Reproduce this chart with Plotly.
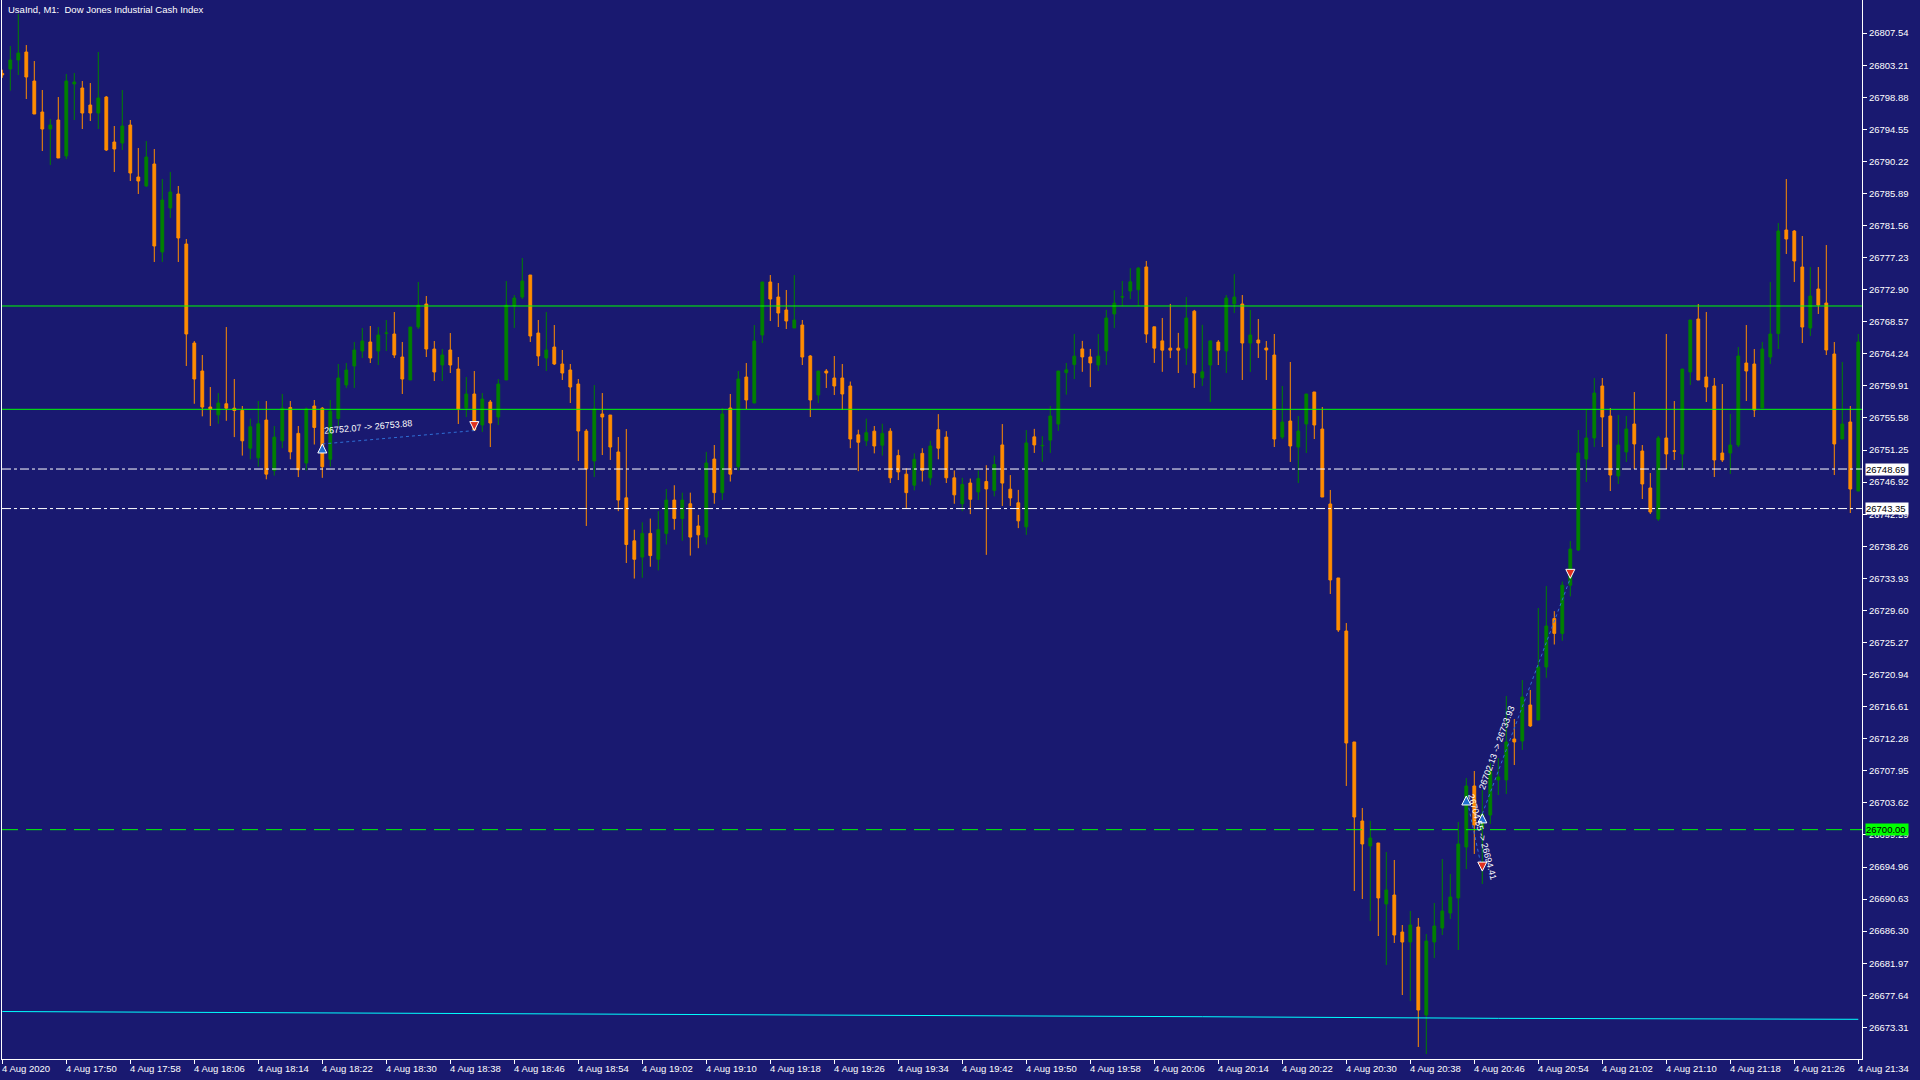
import plotly.graph_objects as go

# UsaInd M1, 4 Aug 2020, one bar per minute from 17:42 to 21:34
opens = [
    26802.10, 26802.69, 26803.91, 26804.99, 26801.07, 26796.89, 26794.59, 26795.81, 26790.95, 26800.67,
    26800.13, 26797.83, 26796.75, 26798.91, 26792.84, 26792.70, 26795.13, 26788.11, 26786.90, 26789.87,
    26777.99, 26783.93, 26785.82, 26779.07, 26765.70, 26761.92, 26757.06, 26756.00, 26757.50, 26756.90,
    26756.60, 26751.50, 26750.20, 26755.30, 26748.50, 26752.50, 26757.00, 26753.50, 26749.50, 26757.20,
    26756.90, 26750.00, 26755.50, 26760.03, 26762.60, 26764.62, 26765.84, 26764.62, 26767.01, 26766.92,
    26763.81, 26760.71, 26767.86, 26770.97, 26764.89, 26762.73, 26764.76, 26762.19, 26756.93, 26758.82,
    26754.63, 26757.74, 26755.71, 26760.71, 26770.70, 26771.91, 26774.88, 26767.05, 26763.68, 26765.16,
    26762.87, 26762.06, 26760.17, 26753.82, 26749.77, 26756.12, 26755.98, 26750.99, 26744.80, 26739.00,
    26736.80, 26740.00, 26736.50, 26740.00, 26744.50, 26742.00, 26744.00, 26741.00, 26739.50, 26750.04,
    26745.50, 26756.93, 26749.00, 26761.11, 26757.60, 26766.78, 26773.94, 26771.91, 26770.16, 26767.73,
    26768.13, 26763.95, 26758.68, 26761.92, 26760.98, 26760.98, 26759.90, 26753.30, 26752.50, 26753.80,
    26751.90, 26753.80, 26750.50, 26748.00, 26746.50, 26750.80, 26747.50, 26754.00, 26753.00, 26747.50,
    26744.00, 26746.80, 26745.60, 26747.00, 26745.80, 26751.94, 26745.97, 26744.13, 26740.88, 26753.03,
    26751.83, 26752.59, 26754.76, 26761.70, 26762.79, 26764.90, 26763.82, 26762.73, 26764.63, 26769.62,
    26771.90, 26772.72, 26772.88, 26775.97, 26767.89, 26765.99, 26765.01, 26765.01, 26765.01, 26770.00,
    26761.00, 26762.73, 26765.83, 26764.62, 26770.97, 26770.97, 26765.70, 26766.11, 26765.03, 26764.08,
    26753.01, 26755.17, 26751.66, 26754.77, 26759.09, 26754.09, 26743.97, 26733.98, 26726.82, 26711.84,
    26701.17, 26697.80, 26698.20, 26689.97, 26691.18, 26686.18, 26684.83, 26686.86, 26674.98, 26684.83,
    26686.73, 26688.75, 26690.78, 26697.66, 26705.90, 26700.23, 26701.98, 26706.71, 26706.71, 26712.24,
    26711.97, 26716.83, 26714.81, 26721.96, 26728.50, 26726.50, 26733.00, 26737.76, 26750.04, 26752.88,
    26759.90, 26755.85, 26747.75, 26750.99, 26754.77, 26751.12, 26746.13, 26741.94, 26752.88, 26751.14,
    26750.72, 26761.79, 26768.94, 26761.11, 26759.90, 26750.85, 26750.85, 26751.93, 26763.00, 26762.87,
    26756.93, 26763.81, 26766.98, 26780.96, 26780.82, 26775.96, 26767.73, 26772.99, 26771.10, 26764.22,
    26752.74, 26755.04, 26745.72,
]
highs = [
    26802.60, 26805.80, 26810.12, 26805.93, 26803.77, 26799.86, 26795.94, 26798.91, 26802.02, 26802.15,
    26801.07, 26800.80, 26804.99, 26799.05, 26795.00, 26799.86, 26795.81, 26792.03, 26792.97, 26791.89,
    26787.84, 26788.79, 26786.90, 26779.74, 26765.97, 26764.08, 26759.76, 26758.95, 26767.86, 26760.84,
    26757.20, 26755.50, 26757.87, 26757.87, 26754.50, 26758.82, 26757.87, 26754.50, 26757.00, 26758.01,
    26757.06, 26758.00, 26762.87, 26763.00, 26765.84, 26767.73, 26768.00, 26767.86, 26768.81, 26769.89,
    26765.84, 26767.86, 26773.94, 26772.05, 26765.97, 26764.89, 26767.05, 26763.81, 26761.11, 26761.92,
    26758.95, 26758.01, 26760.84, 26774.07, 26772.18, 26777.18, 26774.88, 26768.81, 26769.89, 26768.13,
    26764.76, 26762.87, 26760.84, 26754.09, 26760.03, 26758.95, 26755.98, 26753.01, 26754.09, 26740.50,
    26741.50, 26742.00, 26743.00, 26746.00, 26746.50, 26745.50, 26745.50, 26742.50, 26751.00, 26751.93,
    26756.93, 26758.82, 26761.92, 26763.00, 26768.13, 26773.94, 26774.88, 26773.80, 26772.86, 26774.88,
    26768.81, 26764.08, 26761.92, 26762.19, 26763.95, 26762.87, 26760.50, 26754.00, 26755.50, 26754.50,
    26754.80, 26754.20, 26751.30, 26748.80, 26750.80, 26751.50, 26752.50, 26756.10, 26753.80, 26748.50,
    26747.50, 26747.40, 26748.50, 26749.20, 26750.50, 26754.76, 26747.87, 26745.87, 26753.95, 26754.11,
    26753.13, 26757.20, 26761.92, 26763.01, 26766.91, 26765.99, 26764.90, 26766.91, 26770.17, 26772.82,
    26774.07, 26775.81, 26775.97, 26776.78, 26767.89, 26769.08, 26770.98, 26767.07, 26771.90, 26770.17,
    26768.16, 26765.99, 26766.10, 26772.18, 26775.00, 26772.18, 26770.16, 26768.94, 26765.97, 26766.92,
    26759.90, 26763.14, 26755.85, 26758.82, 26759.09, 26757.06, 26745.86, 26733.98, 26727.90, 26711.84,
    26702.93, 26701.17, 26698.20, 26696.99, 26695.91, 26687.13, 26689.02, 26688.08, 26685.91, 26690.10,
    26696.04, 26694.02, 26701.04, 26706.98, 26707.92, 26705.36, 26709.00, 26709.68, 26718.05, 26714.94,
    26720.21, 26718.86, 26729.93, 26732.89, 26729.50, 26733.50, 26738.97, 26753.96, 26756.79, 26760.98,
    26760.98, 26756.93, 26755.98, 26755.85, 26759.09, 26751.93, 26748.15, 26753.15, 26766.92, 26757.87,
    26762.19, 26768.81, 26770.97, 26769.89, 26760.98, 26760.17, 26756.12, 26765.16, 26768.13, 26764.89,
    26765.84, 26773.94, 26781.90, 26787.84, 26780.96, 26780.15, 26775.96, 26775.96, 26778.93, 26765.84,
    26763.14, 26757.20, 26766.92,
]
lows = [
    26801.50, 26799.77, 26801.88, 26798.64, 26796.62, 26791.62, 26789.73, 26790.68, 26790.54, 26795.81,
    26794.59, 26795.67, 26794.59, 26791.62, 26788.79, 26791.76, 26787.57, 26785.82, 26786.76, 26776.64,
    26776.64, 26782.58, 26776.64, 26762.60, 26757.50, 26755.80, 26754.50, 26754.80, 26755.20, 26753.00,
    26750.50, 26750.00, 26749.00, 26747.30, 26747.80, 26751.50, 26750.00, 26747.60, 26748.50, 26752.00,
    26747.50, 26749.00, 26754.50, 26759.63, 26759.63, 26763.68, 26763.00, 26762.73, 26764.62, 26763.68,
    26758.82, 26760.71, 26767.59, 26763.81, 26760.57, 26760.57, 26761.65, 26754.77, 26755.71, 26753.82,
    26753.69, 26751.66, 26754.63, 26760.71, 26767.73, 26771.64, 26765.84, 26762.60, 26761.92, 26762.73,
    26760.71, 26757.60, 26749.77, 26741.00, 26747.61, 26750.58, 26749.91, 26743.00, 26736.00, 26733.90,
    26734.00, 26735.50, 26735.00, 26738.50, 26740.50, 26739.00, 26737.00, 26738.00, 26738.50, 26744.00,
    26744.50, 26747.00, 26748.50, 26756.79, 26757.60, 26765.70, 26768.67, 26767.86, 26767.59, 26767.73,
    26762.73, 26755.71, 26757.60, 26759.63, 26758.68, 26756.66, 26751.50, 26748.40, 26751.80, 26750.80,
    26750.50, 26746.80, 26747.20, 26743.40, 26745.80, 26747.00, 26746.50, 26750.00, 26746.80, 26744.00,
    26743.00, 26742.60, 26744.50, 26737.10, 26745.00, 26743.70, 26743.70, 26740.71, 26739.79, 26750.86,
    26749.66, 26750.86, 26753.84, 26758.72, 26760.84, 26761.81, 26759.75, 26761.92, 26762.73, 26767.72,
    26770.71, 26771.63, 26770.71, 26765.72, 26763.01, 26761.81, 26763.66, 26761.65, 26762.73, 26759.64,
    26759.91, 26757.74, 26762.73, 26761.65, 26769.75, 26760.71, 26761.79, 26763.68, 26760.71, 26751.66,
    26752.74, 26749.64, 26746.80, 26750.85, 26752.74, 26744.91, 26731.82, 26726.69, 26705.90, 26691.72,
    26690.64, 26687.67, 26685.64, 26681.73, 26684.70, 26677.68, 26676.87, 26670.66, 26669.71, 26682.67,
    26685.78, 26687.94, 26683.76, 26694.69, 26696.72, 26692.67, 26700.77, 26704.68, 26704.82, 26708.73,
    26710.76, 26713.86, 26714.81, 26720.50, 26725.00, 26725.50, 26731.50, 26737.62, 26746.94, 26751.66,
    26751.66, 26745.72, 26746.67, 26749.64, 26748.69, 26744.64, 26742.62, 26741.67, 26748.69, 26749.91,
    26748.69, 26760.03, 26760.71, 26757.74, 26747.61, 26749.64, 26748.02, 26751.66, 26757.87, 26755.71,
    26756.93, 26762.87, 26764.89, 26777.72, 26773.94, 26765.70, 26766.65, 26769.62, 26764.08, 26747.88,
    26752.74, 26742.75, 26745.72,
]
closes = [
    26801.90, 26803.91, 26804.85, 26801.61, 26796.62, 26794.59, 26795.13, 26790.68, 26801.07, 26800.94,
    26796.75, 26796.75, 26798.78, 26791.76, 26791.89, 26795.00, 26788.65, 26787.57, 26790.81, 26778.80,
    26785.01, 26786.09, 26779.88, 26766.92, 26760.84, 26757.06, 26756.80, 26757.60, 26756.90, 26756.60,
    26752.50, 26754.40, 26754.80, 26748.00, 26753.00, 26756.90, 26751.00, 26748.60, 26756.80, 26754.30,
    26749.00, 26756.50, 26760.98, 26762.06, 26764.76, 26765.97, 26763.68, 26766.78, 26767.05, 26764.08,
    26760.84, 26767.86, 26770.83, 26764.89, 26761.79, 26764.08, 26762.73, 26756.79, 26758.82, 26753.96,
    26758.14, 26754.90, 26760.17, 26770.83, 26771.78, 26774.07, 26766.65, 26763.95, 26764.76, 26762.87,
    26761.65, 26759.76, 26753.82, 26748.69, 26756.79, 26755.71, 26751.66, 26744.50, 26738.50, 26736.50,
    26740.00, 26737.00, 26740.50, 26744.50, 26742.00, 26744.50, 26739.50, 26739.80, 26749.50, 26745.50,
    26756.12, 26748.00, 26760.84, 26758.01, 26765.97, 26773.94, 26771.64, 26769.75, 26768.67, 26768.81,
    26763.81, 26758.01, 26761.92, 26761.65, 26759.90, 26758.82, 26752.74, 26752.30, 26753.60, 26751.80,
    26753.50, 26747.50, 26748.30, 26745.50, 26750.00, 26748.50, 26751.80, 26751.50, 26747.50, 26745.20,
    26746.60, 26744.60, 26747.40, 26746.00, 26749.30, 26746.79, 26744.78, 26741.69, 26752.21, 26751.94,
    26751.87, 26755.85, 26761.92, 26762.08, 26763.93, 26763.82, 26763.01, 26763.93, 26769.08, 26771.09,
    26771.94, 26773.96, 26775.81, 26766.91, 26765.01, 26764.74, 26764.74, 26764.74, 26769.08, 26761.65,
    26761.81, 26765.99, 26764.74, 26771.78, 26771.91, 26765.70, 26766.78, 26765.70, 26764.76, 26752.74,
    26755.04, 26751.80, 26753.82, 26758.82, 26754.63, 26744.91, 26733.71, 26726.96, 26711.70, 26701.71,
    26698.07, 26698.88, 26690.78, 26691.86, 26685.78, 26684.83, 26687.13, 26675.65, 26684.97, 26687.00,
    26689.02, 26690.91, 26698.07, 26705.90, 26700.63, 26702.12, 26707.92, 26707.11, 26711.84, 26711.84,
    26717.91, 26714.00, 26721.96, 26727.50, 26726.50, 26733.00, 26737.89, 26750.85, 26752.88, 26758.95,
    26755.71, 26747.88, 26751.93, 26754.09, 26752.07, 26746.67, 26742.89, 26752.88, 26750.72, 26751.10,
    26762.19, 26768.81, 26760.71, 26759.76, 26749.91, 26749.91, 26751.93, 26763.95, 26761.92, 26756.66,
    26764.89, 26766.92, 26780.82, 26779.74, 26776.77, 26767.86, 26772.05, 26770.83, 26764.76, 26752.07,
    26754.77, 26745.99, 26765.84,
]
bars = list(range(len(opens)))

# time scale: a label every 8 bars
time_ticks = list(range(0, 233, 8))
time_labels = ['4 Aug 2020'] + ['4 Aug ' + t for t in [
    '17:50', '17:58', '18:06', '18:14', '18:22', '18:30', '18:38', '18:46', '18:54', '19:02',
    '19:10', '19:18', '19:26', '19:34', '19:42', '19:50', '19:58', '20:06', '20:14', '20:22',
    '20:30', '20:38', '20:46', '20:54', '21:02', '21:10', '21:18', '21:26', '21:34']]

price_ticks = [
    26807.54, 26803.21, 26798.88, 26794.55, 26790.22, 26785.89, 26781.56, 26777.23,
    26772.90, 26768.57, 26764.24, 26759.91, 26755.58, 26751.25, 26746.92, 26742.59,
    26738.26, 26733.93, 26729.60, 26725.27, 26720.94, 26716.61, 26712.28, 26707.95,
    26703.62, 26699.29, 26694.96, 26690.63, 26686.30, 26681.97, 26677.64, 26673.31,
]

# horizontal levels drawn on the chart
green_levels = [26770.70, 26756.75]
white_levels = [26748.69, 26743.35]
target_level = 26700.00

# slow moving average near the bottom
ma_bars = [0, 60, 120, 150, 187, 232]
ma_values = [26675.45, 26675.20, 26674.95, 26674.75, 26674.53, 26674.40]

# trade history: open -> close
trade_open_bar = [40, 185, 183]
trade_open_price = [26752.07, 26702.13, 26704.55]
trade_close_bar = [59, 196, 185]
trade_close_price = [26753.88, 26733.93, 26694.41]

BG = '#191970'
FONT = 'Liberation Sans'

fig = go.Figure()

fig.add_trace(go.Scatter(
    x=ma_bars, y=ma_values, mode='lines',
    line=dict(color='#00ffff', width=1),
    hoverinfo='skip', showlegend=False,
))

fig.add_trace(go.Candlestick(
    x=bars, open=opens, high=highs, low=lows, close=closes,
    increasing=dict(line=dict(color='#008000', width=1), fillcolor='#008000'),
    decreasing=dict(line=dict(color='#ff8c00', width=1), fillcolor='#ff8c00'),
    whiskerwidth=0, hoverinfo='skip', showlegend=False,
))

for ob, op, cb, cp in zip(trade_open_bar, trade_open_price, trade_close_bar, trade_close_price):
    fig.add_trace(go.Scatter(
        x=[ob, cb], y=[op, cp], mode='lines',
        line=dict(color='#2f6fd6', width=1, dash='dot'),
        hoverinfo='skip', showlegend=False,
    ))

fig.add_trace(go.Scatter(
    x=trade_open_bar, y=trade_open_price, mode='markers',
    marker=dict(symbol='arrow-up', size=9, color='#1f6fd0', line=dict(color='white', width=1)),
    hoverinfo='skip', showlegend=False,
))
fig.add_trace(go.Scatter(
    x=trade_close_bar, y=trade_close_price, mode='markers',
    marker=dict(symbol='arrow-down', size=9, color='#e0301e', line=dict(color='white', width=1)),
    hoverinfo='skip', showlegend=False,
))

shapes = []
for lv in green_levels:
    shapes.append(dict(type='line', xref='paper', x0=0, x1=1, yref='y', y0=lv, y1=lv,
                       line=dict(color='#00ff00', width=1)))
for lv in white_levels:
    shapes.append(dict(type='line', xref='paper', x0=0, x1=1, yref='y', y0=lv, y1=lv,
                       line=dict(color='white', width=1, dash='9px,3px,3px,3px')))
shapes.append(dict(type='line', xref='paper', x0=0, x1=1, yref='y', y0=target_level, y1=target_level,
                   line=dict(color='#00ff00', width=1, dash='16px,8px')))

annotations = []
# time labels start at their tick
for b, lab in zip(time_ticks, time_labels):
    annotations.append(dict(
        x=b, xref='x', y=0, yref='paper', text=lab, showarrow=False,
        xanchor='left', yanchor='top', xshift=-2, yshift=-2,
        font=dict(family=FONT, size=9.5, color='white'),
    ))

# price tags on the axis
for lv in white_levels:
    annotations.append(dict(
        x=1, xref='paper', y=lv, yref='y', text='%.2f' % lv, showarrow=False,
        xanchor='left', yanchor='middle', xshift=3, width=42, align='left',
        bgcolor='white', borderpad=0,
        font=dict(family=FONT, size=9.5, color='black'),
    ))
annotations.append(dict(
    x=1, xref='paper', y=target_level, yref='y', text='%.2f' % target_level, showarrow=False,
    xanchor='left', yanchor='middle', xshift=3, width=42, align='left',
    bgcolor='#00ff00', borderpad=0,
    font=dict(family=FONT, size=9.5, color='black'),
))

# trade texts
annotations.append(dict(
    x=45.7, xref='x', y=26754.3, yref='y',
    text='%.2f -> %.2f' % (trade_open_price[0], trade_close_price[0]),
    showarrow=False, textangle=-5,
    font=dict(family=FONT, size=9, color='white'),
))
annotations.append(dict(
    x=186.8, xref='x', y=26711.0, yref='y',
    text='%.2f -> %.2f' % (trade_open_price[1], trade_close_price[1]),
    showarrow=False, textangle=-70,
    font=dict(family=FONT, size=9, color='white'),
))
annotations.append(dict(
    x=185.0, xref='x', y=26699.0, yref='y',
    text='%.2f -> %.2f' % (trade_open_price[2], trade_close_price[2]),
    showarrow=False, textangle=75,
    font=dict(family=FONT, size=9, color='white'),
))

# chart title
annotations.append(dict(
    x=0, xref='paper', y=1, yref='paper',
    text='UsaInd, M1:\u00a0 Dow Jones Industrial Cash Index', showarrow=False,
    xanchor='left', yanchor='top', xshift=4, yshift=-2,
    font=dict(family=FONT, size=9.5, color='white'),
))

fig.update_layout(
    width=1920, height=1080,
    margin=dict(l=2, r=58, t=0, b=21),
    paper_bgcolor=BG, plot_bgcolor=BG,
    boxgap=0.5,
    showlegend=False,
    shapes=shapes,
    annotations=annotations,
    xaxis=dict(
        range=[-0.0375, 232.4625],
        rangeslider=dict(visible=False),
        showgrid=False, zeroline=False,
        showline=True, linecolor='white', linewidth=1,
        ticks='outside', ticklen=4, tickcolor='white',
        tickvals=time_ticks, showticklabels=False,
    ),
    yaxis=dict(
        side='right',
        range=[26669.04, 26812.01],
        showgrid=False, zeroline=False,
        showline=True, mirror=True, linecolor='white', linewidth=1,
        ticks='outside', ticklen=4, tickcolor='white',
        tickvals=price_ticks, ticktext=['%.2f' % p for p in price_ticks],
        tickfont=dict(family=FONT, size=9.5, color='white'),
    ),
)

fig.write_html(
    "out.html",
    config={'displayModeBar': False},
    post_script="document.body.style.margin='0';document.body.style.backgroundColor='#191970';",
)
